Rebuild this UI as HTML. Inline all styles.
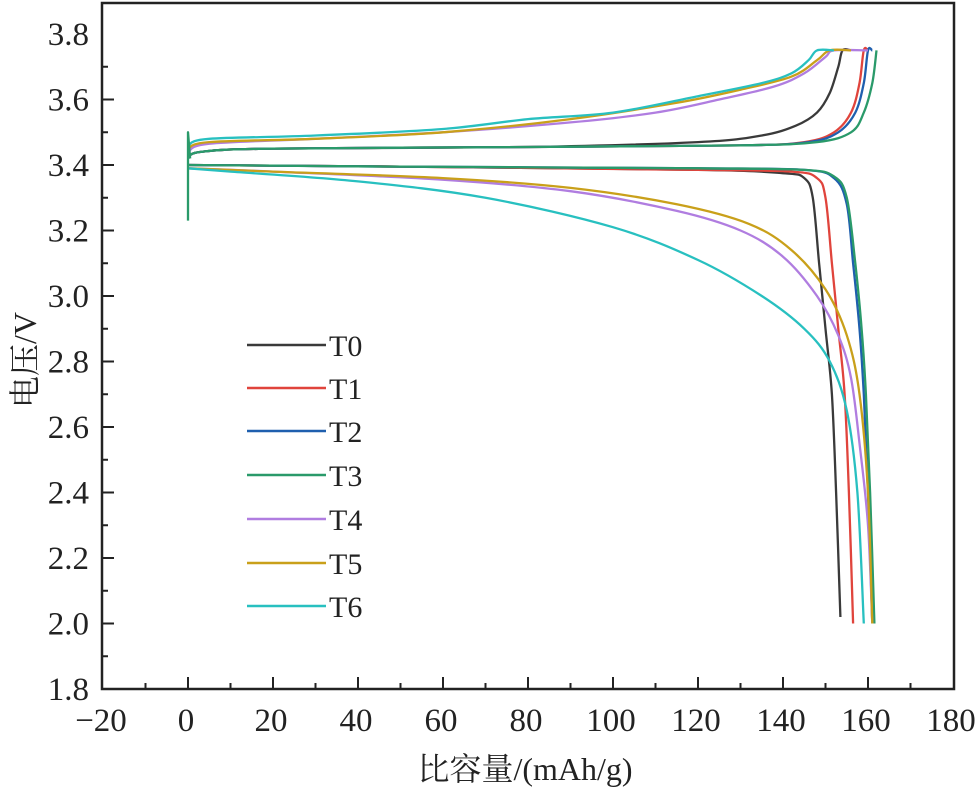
<!DOCTYPE html>
<html><head><meta charset="utf-8"><style>
body{margin:0;background:#fff}
svg{display:block}
text{font-family:"Liberation Serif","Noto Serif CJK SC",serif;fill:#222}
</style></head><body>
<svg id="s" width="978" height="793" viewBox="0 0 978 793" xmlns="http://www.w3.org/2000/svg">
<rect x="102" y="3" width="852" height="686" fill="none" stroke="#222" stroke-width="2.5"/>
<g id="ticks" stroke="#222" stroke-width="2"></g>
<g id="lab" font-size="33"></g>
<g id="curves" fill="none" stroke-width="2.3" stroke-linejoin="round"></g>
<g id="leg" font-size="30"></g>
<text x="525" y="780" font-size="32" text-anchor="middle" font-family="Liberation Serif, Noto Serif CJK SC, serif">比容量/(mAh/g)</text>
<text transform="translate(36,360) rotate(-90)" font-size="32" text-anchor="middle" font-family="Liberation Serif, Noto Serif CJK SC, serif">电压/V</text>
</svg>
<script>
const X=v=>188+4.25*v, Y=v=>689-(v-1.8)*327.5;
const NS="http://www.w3.org/2000/svg";
function el(p,t,a,txt){const e=document.createElementNS(NS,t);for(const k in a)e.setAttribute(k,a[k]);if(txt!=null)e.textContent=txt;document.getElementById(p).appendChild(e);}
for(let v=-20;v<=180;v+=10){const x=X(v);const maj=v%20==0;if(v>-20&&v<180)el("ticks","line",{x1:x,y1:689,x2:x,y2:maj?677:683});if(maj)el("lab","text",{x:x-2,y:731,"text-anchor":"middle"},(v<0?"−":"")+Math.abs(v));}
for(let i=0;i<=20;i++){const v=1.8+i*0.1,y=Y(v);const maj=i%2==0;if(i>0&&i<20)el("ticks","line",{x1:102,y1:y,x2:maj?114:108,y2:y});if(maj)el("lab","text",{x:89,y:y+11,"text-anchor":"end"},v.toFixed(1));}
const C=["#3a3a3a","#e0443c","#1f5fae","#2a9a6a","#b07de0","#c9a01a","#28c0c0"];
function sm(pts){const P=pts.map(p=>[X(p[0]),Y(p[1])]);let d="M"+P[0][0].toFixed(1)+","+P[0][1].toFixed(1);
for(let i=0;i<P.length-1;i++){const p0=P[i-1]||P[i],p1=P[i],p2=P[i+1],p3=P[i+2]||P[i+1];
const c1=[p1[0]+(p2[0]-p0[0])/6,p1[1]+(p2[1]-p0[1])/6],c2=[p2[0]-(p3[0]-p1[0])/6,p2[1]-(p3[1]-p1[1])/6];
d+="C"+c1.map(n=>n.toFixed(1))+" "+c2.map(n=>n.toFixed(1))+" "+p2.map(n=>n.toFixed(1));}return d;}
const charge=[
[[0,3.42],[3,3.44],[20,3.45],[80,3.455],[120,3.47],[135,3.49],[143,3.52],[148,3.56],[151,3.62],[153,3.7],[154,3.75],[156,3.75]],
[[0,3.42],[3,3.44],[20,3.45],[80,3.455],[130,3.46],[145,3.47],[152,3.5],[156,3.56],[158,3.65],[159,3.75],[160,3.75]],
[[0,3.42],[3,3.44],[20,3.45],[80,3.455],[130,3.46],[146,3.47],[153,3.5],[157,3.56],[159,3.65],[160,3.75],[161,3.75]],
[[0,3.42],[3,3.44],[20,3.45],[80,3.455],[130,3.46],[148,3.47],[156,3.5],[159,3.56],[161,3.65],[162,3.75]],
[[0,3.44],[5,3.465],[30,3.48],[60,3.5],[90,3.53],[110,3.56],[125,3.6],[138,3.64],[145,3.68],[150,3.73],[152,3.75],[160,3.75]],
[[0,3.45],[5,3.47],[30,3.48],[60,3.5],[90,3.54],[115,3.59],[130,3.63],[142,3.67],[148,3.72],[151,3.75],[156,3.75]],
[[0,3.46],[5,3.48],[30,3.49],[60,3.51],[80,3.54],[100,3.56],[120,3.61],[135,3.65],[142,3.68],[146,3.72],[148,3.75],[152,3.75]]];
const dis=[
[[0,3.4],[50,3.395],[120,3.385],[140,3.375],[145,3.36],[147,3.3],[148.5,3.1],[150,2.9],[151.5,2.7],[152.5,2.4],[153.5,2.02]],
[[0,3.4],[50,3.395],[120,3.385],[142,3.38],[148,3.36],[150,3.3],[151.5,3.1],[153,2.9],[154.5,2.7],[155.5,2.4],[156.5,2.0]],
[[0,3.4],[50,3.395],[120,3.39],[145,3.385],[152,3.36],[155,3.28],[156.5,3.1],[158,2.9],[159,2.7],[160,2.4],[161,2.0]],
[[0,3.4],[50,3.395],[120,3.39],[145,3.385],[152,3.365],[155,3.3],[157,3.1],[158.5,2.9],[159.5,2.7],[160.5,2.4],[161.5,2.0]],
[[0,3.39],[20,3.38],[60,3.355],[90,3.32],[115,3.26],[130,3.2],[140,3.12],[148,3.0],[153,2.88],[156,2.75],[158,2.55],[160,2.3],[161,2.0]],
[[0,3.39],[20,3.38],[60,3.36],[90,3.33],[115,3.28],[132,3.22],[142,3.14],[150,3.02],[155,2.88],[158,2.7],[160,2.4],[161,2.0]],
[[0,3.39],[10,3.38],[40,3.35],[70,3.3],[100,3.21],[120,3.11],[135,3.0],[145,2.9],[151,2.8],[155,2.65],[157.5,2.4],[159,2.0]]];
dis.forEach((p,i)=>el("curves","path",{d:sm(p),stroke:C[i]}));
charge.forEach((p,i)=>el("curves","path",{d:sm(p),stroke:C[i]}));
el("curves","path",{d:"M"+X(0)+","+Y(3.23)+"L"+X(0)+","+Y(3.5)+"L"+X(0.5)+","+Y(3.42),stroke:"#2a9a6a"});
const ly=[345,388,431,475,519,563,606];
ly.forEach((y,i)=>{el("leg","line",{x1:247,y1:y,x2:326,y2:y,stroke:C[i],"stroke-width":2.5});el("leg","text",{x:329,y:y+11},"T"+i);});
</script>
</body></html>
